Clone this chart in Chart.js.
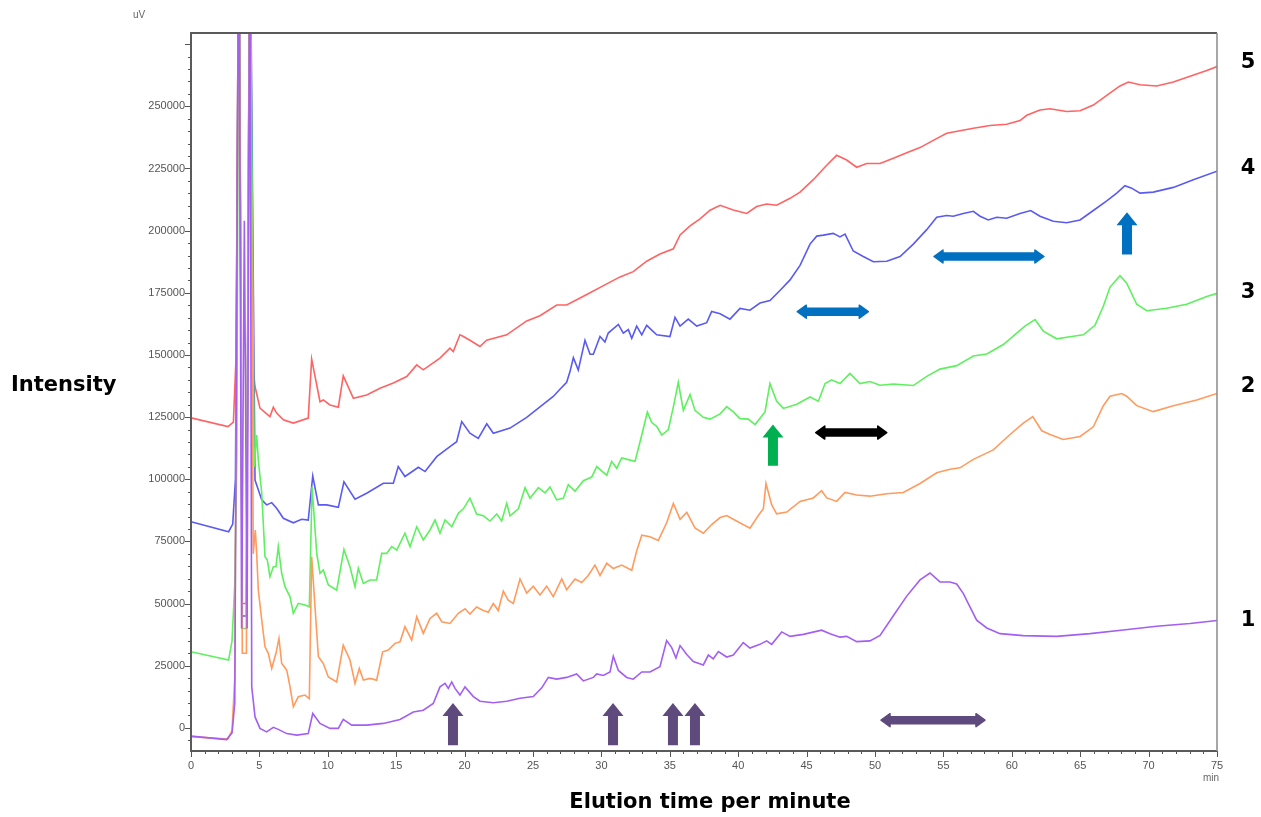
<!DOCTYPE html>
<html>
<head>
<meta charset="utf-8">
<title>Chromatograms</title>
<script src="https://cdn.jsdelivr.net/npm/chart.js@4.4.0/dist/chart.umd.min.js"></script>
<style>
  html, body { margin: 0; padding: 0; background: #fff; }
  #wrap { position: relative; width: 1261px; height: 817px; overflow: hidden; }
  #chart { position: absolute; left: 0; top: 0; }
  .lbl { position: absolute; font-family: "DejaVu Sans", Verdana, sans-serif; font-weight: bold;
         font-size: 21px; line-height: 24px; color: #000; white-space: nowrap; }
  .num { width: 24px; text-align: center; }
  .unit { position: absolute; font-family: "Liberation Sans", Arial, sans-serif; font-size: 10px;
          line-height: 12px; color: #666; }
</style>
</head>
<body>
<div id="wrap">
  <canvas id="chart" width="1261" height="817"></canvas>
  <div class="unit" style="left:133px; top:9px;">uV</div>
  <div class="unit" style="left:1203px; top:772px;">min</div>
  <div class="lbl" style="left:11px; top:372px;">Intensity</div>
  <div class="lbl" style="left:410px; top:789px; width:600px; text-align:center;">Elution time per minute</div>
  <div class="lbl num" style="left:1236px; top:49px;">5</div>
  <div class="lbl num" style="left:1236px; top:155px;">4</div>
  <div class="lbl num" style="left:1236px; top:279px;">3</div>
  <div class="lbl num" style="left:1236px; top:373px;">2</div>
  <div class="lbl num" style="left:1236px; top:607px;">1</div>
</div>
<script>
/* DATA: [time (min), signal (uV)] */

const trace1 = [[0,-3300],[2.6,-4700],[3.0,-2000],[3.2,10000],[3.5,340000],[3.7,40000],[3.9,204000],[4.1,40000],[4.3,340000],[4.44,16500],[4.68,4400],[5.04,-200],[5.53,-1600],[6.02,200],[6.38,-600],[7.0,-2300],[7.73,-2900],[8.57,-2300],[8.9,5800],[9.43,1800],[10.16,-200],[10.77,-200],[11.13,3400],[11.75,1100],[12.84,1100],[14.06,1800],[15.28,3400],[16.25,6400],[16.98,7100],[17.71,9800],[18.2,16500],[18.57,17900],[18.81,15900],[19.06,18500],[19.3,15900],[19.66,13200],[20.03,16500],[20.64,12600],[21.13,10700],[22.1,10100],[23.08,10700],[24.05,11900],[25.02,12600],[25.64,16100],[26.12,20300],[26.73,19600],[27.46,20300],[28.19,21700],[28.68,18900],[29.41,20300],[29.66,21700],[30.14,21100],[30.63,22500],[30.87,28800],[31.24,23100],[31.85,20300],[32.33,19600],[32.95,22500],[33.55,22500],[34.28,24600],[34.77,35100],[35.14,32300],[35.45,28100],[35.75,33100],[36.24,29500],[36.72,26700],[37.45,25300],[37.82,29300],[38.18,27800],[38.55,30700],[39.16,28500],[39.64,29300],[40.37,34300],[40.86,32100],[41.59,33600],[42.08,35000],[42.45,33600],[43.18,38600],[43.79,36800],[44.76,37600],[46.1,39300],[46.71,37900],[47.44,36500],[47.93,36800],[48.66,34700],[49.63,35000],[50.37,37200],[51.34,45100],[52.32,53000],[53.29,59500],[54.02,62300],[54.75,58700],[55.48,58700],[55.97,57900],[56.45,54100],[56.94,48700],[57.43,43300],[58.17,40200],[59.14,37900],[60.84,37100],[63.28,36800],[65.72,37900],[68.15,39400],[70.59,40900],[73.03,42000],[75,43200]];

const trace2 = [[0,-3500],[2.7,-4500],[3.0,-1000],[3.2,20000],[3.5,340000],[3.75,30000],[4.05,30000],[4.3,340000],[4.55,70000],[4.7,79600],[4.8,70200],[4.92,55400],[5.17,43400],[5.41,32600],[5.65,30000],[5.9,23900],[6.21,30000],[6.43,36000],[6.63,25900],[7.0,23200],[7.24,16500],[7.48,8500],[7.84,12500],[8.33,13200],[8.65,11800],[8.82,68800],[9.31,28600],[9.67,25900],[10.04,20500],[10.65,18500],[11.13,33300],[11.62,27300],[11.99,17900],[12.3,23900],[12.6,19200],[13.08,19900],[13.57,19200],[14.01,30600],[14.42,31300],[14.91,34000],[15.28,34600],[15.64,40700],[16.13,35300],[16.5,44700],[16.98,38000],[17.47,44000],[17.96,46100],[18.33,42700],[18.93,42000],[19.54,46100],[20.03,47900],[20.39,45800],[20.88,48600],[21.37,47200],[21.73,46500],[22.1,50000],[22.46,47200],[22.83,55000],[23.19,51400],[23.56,50000],[24.05,59900],[24.54,54200],[25.02,57000],[25.51,53500],[26.0,57000],[26.48,52800],[27.1,59900],[27.46,55600],[28.07,59900],[28.56,58500],[29.04,61300],[29.53,65500],[29.9,61300],[30.39,66200],[30.87,64100],[31.48,65500],[32.22,63400],[32.58,71200],[32.95,77500],[33.55,76900],[34.16,75400],[34.77,82500],[35.26,90300],[35.75,83900],[36.24,86700],[36.84,80400],[37.45,78300],[38.06,81800],[38.68,84600],[39.16,85400],[39.64,83900],[40.86,80300],[41.47,85400],[41.84,88200],[42.03,98300],[42.45,89700],[42.81,86100],[43.55,86800],[44.52,91100],[45.49,92500],[46.1,95400],[46.47,92500],[47.2,91100],[47.81,94700],[48.66,93700],[49.63,93200],[50.86,94200],[52.07,94700],[53.29,98300],[54.51,102600],[55.48,104000],[56.21,104600],[57.19,108000],[58.65,111800],[59.87,118000],[60.84,122600],[61.53,125200],[62.19,119500],[62.79,118000],[63.76,116000],[64.99,117200],[65.96,121100],[66.69,129600],[67.18,133400],[68.03,134500],[68.4,133400],[69.13,129600],[70.34,127200],[71.81,129600],[73.52,131900],[75,134500]];

const trace3 = [[0,30600],[2.75,27300],[3.0,35000],[3.2,58000],[3.35,110000],[3.5,340000],[3.75,40000],[4.05,40000],[4.3,340000],[4.62,105000],[4.8,117800],[4.92,107800],[5.17,94400],[5.41,68800],[5.58,67500],[5.77,60800],[6.02,64800],[6.21,64800],[6.38,72900],[6.63,62200],[6.87,56800],[7.24,52700],[7.48,46100],[7.84,50100],[8.33,49400],[8.65,48700],[8.85,97000],[9.19,70200],[9.43,62200],[9.67,63500],[10.04,57500],[10.65,55400],[11.18,71800],[11.62,64800],[11.99,56800],[12.23,64200],[12.6,58100],[13.08,59500],[13.57,59500],[13.94,70200],[14.31,70200],[14.67,72900],[15.04,71500],[15.64,78300],[16.01,72900],[16.5,80900],[16.98,75600],[17.47,79600],[17.84,83600],[18.2,78300],[18.57,83600],[19.06,80900],[19.54,86300],[19.91,88100],[20.39,92400],[20.88,86000],[21.37,85300],[21.86,83200],[22.35,86000],[22.71,83200],[23.08,90300],[23.32,85300],[23.93,88100],[24.42,96600],[24.78,92400],[25.39,96600],[25.88,94500],[26.24,96900],[26.73,91700],[27.22,92400],[27.58,97800],[28.07,95200],[28.68,99400],[29.29,100900],[29.66,105100],[30.39,101600],[30.75,107200],[31.12,104400],[31.48,108600],[31.97,107900],[32.46,107200],[32.95,117800],[33.36,127000],[33.68,122800],[34.04,121300],[34.41,117800],[34.89,119900],[35.26,129100],[35.62,139000],[35.99,127700],[36.48,134100],[36.84,127700],[37.45,124900],[37.94,124200],[38.68,126300],[39.16,129200],[39.64,127100],[40.13,124400],[40.74,124200],[41.23,122000],[41.96,127100],[42.32,138500],[42.81,131400],[43.3,128500],[44.28,130200],[45.25,133100],[45.86,131400],[46.35,138500],[46.83,140000],[47.44,138500],[48.17,142600],[48.9,138500],[49.63,139300],[50.37,137800],[51.34,138300],[52.8,137700],[53.78,141400],[54.75,144300],[55.97,145700],[57.19,149600],[58.17,150400],[59.38,154200],[60.36,158800],[60.96,161600],[61.7,164200],[62.3,159600],[63.28,156500],[64.25,157300],[65.23,158100],[66.08,161900],[66.69,169600],[67.18,177300],[67.91,181900],[68.4,178900],[69.13,170400],[69.86,167800],[71.32,168800],[72.78,170400],[74.25,173500],[75,174800]];

const trace4 = [[0,82900],[2.75,78900],[3.05,82000],[3.25,100000],[3.5,340000],[3.75,45000],[4.05,45000],[4.3,340000],[4.68,99700],[5.17,91700],[5.53,89700],[5.9,90600],[6.26,88300],[6.75,84300],[7.48,82500],[8.09,83900],[8.57,83600],[8.9,101300],[9.31,89700],[9.92,89700],[10.77,88700],[11.18,99000],[11.99,92000],[12.84,94400],[14.06,98400],[14.79,98400],[15.15,105100],[15.64,101100],[16.62,104800],[17.11,103100],[17.96,109100],[18.93,113100],[19.42,115100],[19.79,123200],[20.39,118500],[21.0,116400],[21.62,122300],[22.1,118500],[23.32,120600],[24.54,124900],[25.51,129100],[26.48,133300],[26.97,136200],[27.46,139000],[27.7,143200],[27.95,148900],[28.31,143900],[28.8,155900],[29.17,150300],[29.41,150300],[29.9,157400],[30.26,155200],[30.5,158800],[31.24,162300],[31.6,158800],[31.97,160200],[32.22,156700],[32.58,161600],[32.95,158100],[33.31,161900],[34.04,158100],[35.01,157400],[35.38,165100],[35.75,161600],[36.35,164400],[36.97,161600],[37.7,163000],[38.06,167500],[38.68,166600],[39.4,164400],[40.13,168700],[40.86,168000],[41.59,170900],[42.32,171900],[43.05,175900],[43.79,180200],[44.52,186000],[45.25,194600],[45.74,197800],[46.22,198200],[46.95,198900],[47.44,197500],[47.81,198600],[48.41,191800],[49.14,189600],[49.88,187500],[50.86,187700],[51.83,189600],[52.8,194600],[53.78,200400],[54.51,205400],[55.24,206100],[55.72,205800],[56.45,206900],[57.19,207800],[57.68,205800],[58.28,204300],[58.9,205400],[59.63,205000],[60.6,206900],[61.38,208100],[62.06,205800],[63.03,203800],[64.01,203200],[64.99,204300],[65.96,208100],[66.94,212000],[67.67,215100],[68.27,218100],[68.76,217100],[69.37,215100],[70.34,215500],[71.81,217400],[73.27,220500],[75,223900]];

const trace5 = [[0,124700],[2.7,121200],[3.1,123000],[3.3,150000],[3.5,340000],[3.75,50000],[4.05,50000],[4.3,340000],[4.55,144000],[4.68,137300],[5.04,128600],[5.77,125200],[6.02,129000],[6.26,126600],[6.75,123900],[7.48,122600],[8.57,124600],[8.82,148300],[9.43,131200],[9.67,131900],[10.16,129900],[10.77,129000],[11.13,141600],[11.87,132600],[12.84,133900],[13.82,136600],[14.79,138700],[15.77,141300],[16.5,146000],[16.98,144000],[18.2,148700],[18.93,152700],[19.17,151400],[19.66,158100],[19.88,157500],[20.39,155900],[21.12,153400],[21.61,155900],[23.08,158100],[24.54,163700],[25.51,165800],[26.73,170100],[27.46,170100],[28.93,174300],[30.39,178600],[31.36,181400],[32.33,183500],[33.31,187700],[34.28,190600],[35.26,192700],[35.75,198300],[36.48,201900],[37.21,204700],[37.94,208200],[38.68,210200],[39.64,208300],[40.62,206900],[41.35,209700],[42.08,210700],[42.81,210200],[43.79,213000],[44.52,215500],[45.49,220500],[46.47,226300],[47.2,230300],[47.93,228400],[48.66,225500],[49.39,227000],[50.37,227000],[51.34,229100],[52.32,231300],[53.29,233400],[54.26,236300],[55.24,239200],[57.19,241200],[58.41,242300],[59.63,242800],[60.6,244300],[61.09,246400],[62.06,248500],[62.79,249000],[64.01,247900],[64.99,248200],[65.96,250500],[66.94,254400],[67.91,258200],[68.52,259800],[69.37,258700],[70.59,258200],[71.81,259800],[73.03,262100],[74.25,264400],[75,266000]];

const traceNames = ["1", "2", "3", "4", "5"];
const traceColors = ["#a35ef2", "#ff9b5e", "#5ef05e", "#5a5af2", "#ff6363"];

/* AXES */
const X_MIN = 0, X_MAX = 75, X_STEP = 1, X_LABEL_EVERY = 5;
const Y_MIN = -9300, Y_MAX = 279500, Y_STEP = 5000, Y_LABEL_EVERY = 25000;
const Y_FIRST_TICK = -5000, Y_LAST_TICK = 275000, Y_LAST_LABEL = 250000;

/* MARKERS: up arrows (time, tip, base) and two-headed arrows (start, end, level) */
const upArrowTimes = [19.15, 30.85, 35.23, 36.84, 42.54, 68.42];
const upArrowTips  = [10000, 10000, 10000, 10000, 122000, 207400];
const upArrowBases = [-7000, -7000, -7000, -7000, 105400, 190400];
const upArrowColors = ["#5e4a7c", "#5e4a7c", "#5e4a7c", "#5e4a7c", "#00b050", "#0070c0"];

const spanStarts = [50.44, 44.32, 54.31, 45.67];
const spanEnds   = [58.04, 49.51, 62.35, 50.86];
const spanLevels = [3100, 167400, 189600, 118800];
const spanColors = ["#5e4a7c", "#0070c0", "#0070c0", "#000000"];

/* PLUGINS */

const isMultiple = (v, step) => Math.abs(Math.round(v) % step) === 0;

const frameAndTicks = {
  id: "frameAndTicks",
  afterDraw(chart) {
    const { ctx, chartArea: a, scales } = chart;
    ctx.save();
    ctx.strokeStyle = "#555";
    ctx.lineWidth = 1;
    ctx.beginPath();
    scales.y.ticks.forEach(t => {
      const y = Math.round(scales.y.getPixelForValue(t.value)) + 0.5;
      const len = isMultiple(t.value, Y_LABEL_EVERY) ? 6 : 3;
      ctx.moveTo(a.left - len, y);
      ctx.lineTo(a.left, y);
    });
    scales.x.ticks.forEach(t => {
      const x = Math.round(scales.x.getPixelForValue(t.value)) + 0.5;
      const len = isMultiple(t.value, X_LABEL_EVERY) ? 6 : 3;
      ctx.moveTo(x, a.bottom);
      ctx.lineTo(x, a.bottom + len);
    });
    ctx.stroke();

    // y tick labels, from the scale's own ticks
    ctx.fillStyle = "#555";
    ctx.font = "11px 'Liberation Sans', Arial, sans-serif";
    ctx.textAlign = "right";
    ctx.textBaseline = "middle";
    scales.y.ticks.forEach(t => {
      if (!isMultiple(t.value, Y_LABEL_EVERY) || t.value > Y_LAST_LABEL) return;
      ctx.fillText(String(Math.round(t.value)), a.left - 6, scales.y.getPixelForValue(t.value));
    });

    ctx.lineWidth = 2;
    ctx.strokeStyle = "#5a5a5a";
    ctx.beginPath();
    ctx.moveTo(a.right, a.bottom);
    ctx.lineTo(a.left, a.bottom);
    ctx.lineTo(a.left, a.top);
    ctx.lineTo(a.right, a.top);
    ctx.stroke();
    ctx.strokeStyle = "#8a8a8a";
    ctx.lineWidth = 1.5;
    ctx.beginPath();
    ctx.moveTo(a.right, a.top);
    ctx.lineTo(a.right, a.bottom);
    ctx.stroke();
    ctx.restore();
  }
};

function upArrow(ctx, x, yTip, yBase) {
  const hw = 10.5, sw = 5, hh = 13;
  ctx.beginPath();
  ctx.moveTo(x, yTip);
  ctx.lineTo(x + hw, yTip + hh);
  ctx.lineTo(x + sw, yTip + hh);
  ctx.lineTo(x + sw, yBase);
  ctx.lineTo(x - sw, yBase);
  ctx.lineTo(x - sw, yTip + hh);
  ctx.lineTo(x - hw, yTip + hh);
  ctx.closePath();
  ctx.fill();
}

function twoHeaded(ctx, x1, x2, y) {
  const hl = 9, hh = 6.5, sh = 3.5;
  ctx.beginPath();
  ctx.moveTo(x1, y);
  ctx.lineTo(x1 + hl, y - hh);
  ctx.lineTo(x1 + hl, y - sh);
  ctx.lineTo(x2 - hl, y - sh);
  ctx.lineTo(x2 - hl, y - hh);
  ctx.lineTo(x2, y);
  ctx.lineTo(x2 - hl, y + hh);
  ctx.lineTo(x2 - hl, y + sh);
  ctx.lineTo(x1 + hl, y + sh);
  ctx.lineTo(x1 + hl, y + hh);
  ctx.closePath();
  ctx.fill();
  ctx.stroke();
}

const markers = {
  id: "markers",
  afterDatasetsDraw(chart) {
    const { ctx, scales: { x, y } } = chart;
    ctx.save();
    ctx.lineJoin = "round";
    ctx.lineWidth = 1.5;
    upArrowTimes.forEach((t, i) => {
      ctx.fillStyle = upArrowColors[i];
      upArrow(ctx, x.getPixelForValue(t), y.getPixelForValue(upArrowTips[i]), y.getPixelForValue(upArrowBases[i]));
    });
    spanStarts.forEach((s, i) => {
      ctx.fillStyle = spanColors[i];
      ctx.strokeStyle = spanColors[i];
      twoHeaded(ctx, x.getPixelForValue(s), x.getPixelForValue(spanEnds[i]), y.getPixelForValue(spanLevels[i]));
    });
    ctx.restore();
  }
};

/* CHART */

const traces = [trace1, trace2, trace3, trace4, trace5];
const tickFont = { family: "'Liberation Sans', Arial, sans-serif", size: 11 };

new Chart(document.getElementById("chart"), {
  type: "line",
  data: {
    datasets: traces.map((tr, i) => ({
      label: traceNames[i],
      data: tr.map(p => ({ x: p[0], y: p[1] })),
      borderColor: traceColors[i],
      borderWidth: 1.6,
      pointRadius: 0,
      tension: 0,
      fill: false
    }))
  },
  options: {
    responsive: false,
    animation: false,
    events: [],
    layout: { padding: { top: 33, right: 44, left: 0, bottom: 0 } },
    plugins: { legend: { display: false }, tooltip: { enabled: false } },
    scales: {
      x: {
        type: "linear",
        min: X_MIN,
        max: X_MAX,
        afterFit: s => { s.height = 66; },
        grid: { display: false, drawTicks: false },
        border: { display: false },
        ticks: {
          stepSize: X_STEP,
          autoSkip: false,
          maxRotation: 0,
          padding: 8,
          color: "#555",
          font: tickFont,
          callback: v => (isMultiple(v, X_LABEL_EVERY) ? String(v) : "")
        }
      },
      y: {
        type: "linear",
        min: Y_MIN,
        max: Y_MAX,
        afterFit: s => { s.width = 191; },
        // one tick every 5000 uV, starting from a round value
        afterBuildTicks: s => {
          const ticks = [];
          for (let v = Y_FIRST_TICK; v <= Y_LAST_TICK; v += Y_STEP) ticks.push({ value: v });
          s.ticks = ticks;
        },
        grid: { display: false, drawTicks: false },
        border: { display: false },
        ticks: { autoSkip: false, display: false }
      }
    }
  },
  plugins: [frameAndTicks, markers]
});
</script>
</body>
</html>
